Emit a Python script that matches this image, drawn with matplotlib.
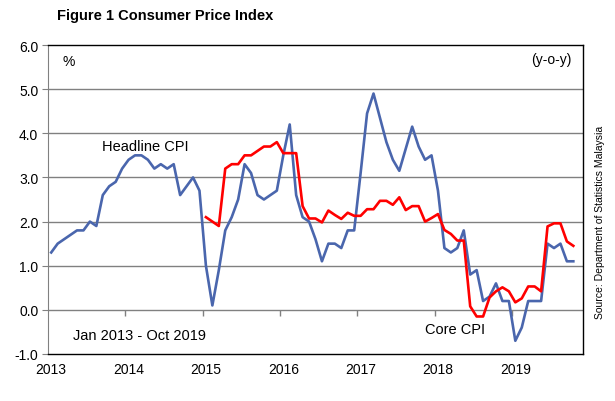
import numpy as np
import matplotlib
matplotlib.use('Agg')
import matplotlib.pyplot as plt

plt.rcParams['font.family'] = ['Liberation Sans', 'DejaVu Sans']

# monthly y-o-y, Jan 2013 - Oct 2019
headline = [1.3, 1.5, 1.6, 1.7, 1.8, 1.8, 2.0, 1.9, 2.6, 2.8, 2.9, 3.2,
            3.4, 3.5, 3.5, 3.4, 3.2, 3.3, 3.2, 3.3, 2.6, 2.8, 3.0, 2.7,
            1.0, 0.1, 0.9, 1.8, 2.1, 2.5, 3.3, 3.1, 2.6, 2.5, 2.6, 2.7,
            3.5, 4.2, 2.6, 2.1, 2.0, 1.6, 1.1, 1.5, 1.5, 1.4, 1.8, 1.8,
            3.1, 4.45, 4.9, 4.35, 3.8, 3.4, 3.15, 3.65, 4.15, 3.7, 3.4, 3.5,
            2.7, 1.4, 1.3, 1.4, 1.8, 0.8, 0.9, 0.2, 0.3, 0.6, 0.2, 0.2,
            -0.7, -0.4, 0.2, 0.2, 0.2, 1.5, 1.4, 1.5, 1.1, 1.1]
# core CPI, Jan 2015 - Oct 2019
core = [2.1, 2.0, 1.9, 3.2, 3.3, 3.3, 3.5, 3.5, 3.6, 3.7, 3.7, 3.8,
        3.55, 3.55, 3.55, 2.35, 2.07, 2.07, 1.98, 2.25, 2.15, 2.06, 2.2, 2.13,
        2.13, 2.28, 2.28, 2.47, 2.47, 2.38, 2.55, 2.26, 2.35, 2.35, 2.0, 2.08,
        2.17, 1.81, 1.72, 1.57, 1.57, 0.08, -0.15, -0.15, 0.28, 0.42, 0.51, 0.42,
        0.17, 0.26, 0.53, 0.53, 0.42, 1.89, 1.96, 1.96, 1.55, 1.45]
core_start = 24
years = ['2013', '2014', '2015', '2016', '2017', '2018', '2019']
n_cat = 83

W, H = 615, 402
fig = plt.figure(figsize=(W / 100, H / 100), dpi=100)
ax = fig.add_axes([48 / W, 1 - 355 / H, (583 - 48) / W, (355 - 46) / H])

x_h = np.arange(len(headline))
x_c = np.arange(core_start, core_start + len(core))
blue = '#4a66ad'
ax.plot(x_h, headline, color=blue, lw=1.9, zorder=3)
ax.plot(x_c, core, color='#ff0000', lw=1.9, zorder=4)

ax.set_xlim(-0.5, n_cat - 0.5)
ax.set_ylim(-1, 6)
ax.set_yticks(np.arange(-1, 7, 1))
ax.set_yticklabels(['%.1f' % v for v in np.arange(-1, 7, 1)], fontsize=10)
for v in range(0, 6):
    ax.axhline(v, color='#808080', lw=1.0, zorder=1)

year_pos = np.arange(len(years)) * 12
ax.set_xticks(year_pos)
ax.set_xticklabels(years, fontsize=10)
ax.tick_params(axis='x', length=0, pad=6)
ax.tick_params(axis='y', direction='out', length=4, color='#808080', pad=3)

for s in ['top', 'right', 'bottom']:
    ax.spines[s].set_color('black')
    ax.spines[s].set_linewidth(1.0)
ax.spines['left'].set_color('#808080')

# year boundary ticks on the zero line
sec = ax.secondary_xaxis(1 / 7)
sec.set_xticks(year_pos[1:] - 0.5)
sec.tick_params(direction='out', length=4, width=1, color='#808080', labelbottom=False)
sec.spines['bottom'].set_visible(False)

def px(x, y):
    return x / W, 1 - y / H

fig.text(*px(57, 16), 'Figure 1 Consumer Price Index', fontsize=10.5,
         fontweight='bold', va='center', ha='left')
fig.text(*px(63, 62), '%', fontsize=10, va='center', ha='left')
fig.text(*px(572, 60), '(y-o-y)', fontsize=10, va='center', ha='right')
fig.text(*px(102, 147), 'Headline CPI', fontsize=10.5, va='center', ha='left')
fig.text(*px(73, 336), 'Jan 2013 - Oct 2019', fontsize=10.5, va='center', ha='left')
fig.text(*px(425, 330), 'Core CPI', fontsize=10.5, va='center', ha='left')
fig.text(*px(600, 222), 'Source: Department of Statistics Malaysia', fontsize=7.5,
         rotation=90, va='center', ha='center')

fig.savefig('out.png', dpi=100)
